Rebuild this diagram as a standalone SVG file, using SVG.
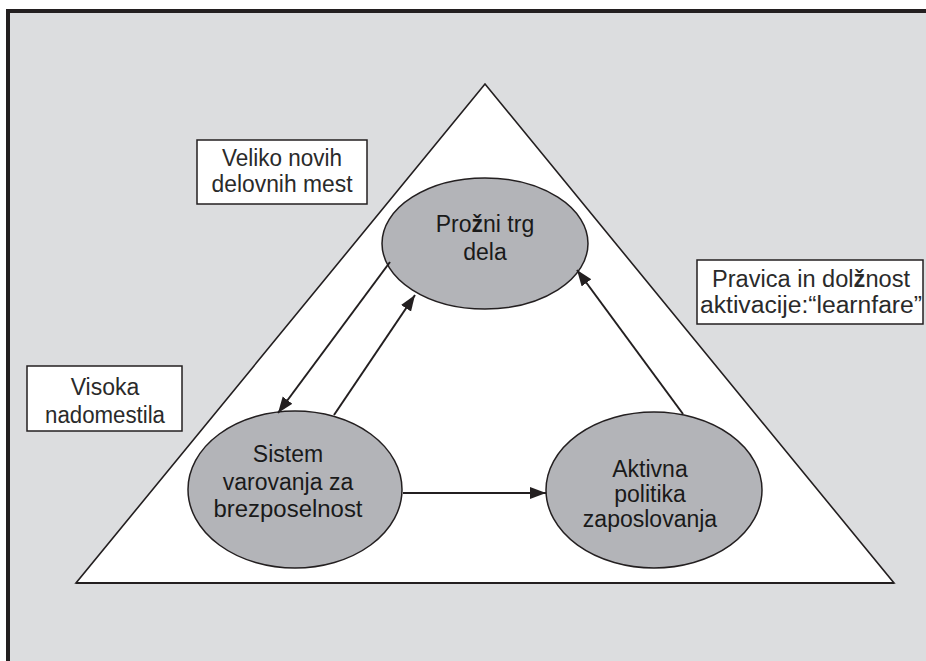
<svg xmlns="http://www.w3.org/2000/svg" width="926" height="661" viewBox="0 0 926 661">
<style>
.t{font-family:"Liberation Sans",Arial,sans-serif;text-anchor:middle}
.bx{font-size:23px;fill:#2a2a2a}
.el{font-size:23px;fill:#1a1a1a}
.box{fill:#ffffff;stroke:#231f20;stroke-width:1.5}
.ell{fill:#b3b4b8;stroke:#231f20;stroke-width:1.5}
.con{stroke:#231f20;stroke-width:2;fill:none}
</style>
<defs>
<marker id="ah" markerUnits="userSpaceOnUse" markerWidth="17" markerHeight="13" refX="16" refY="6" orient="auto">
<path d="M0,0 L16,6 L0,12 z" fill="#231f20"/>
</marker>
</defs>
<rect x="0" y="0" width="926" height="661" fill="#ffffff"/>
<rect x="8" y="11" width="940" height="670" fill="#dcdddf" stroke="#231f20" stroke-width="4"/>
<g id="triangle">
<polygon points="485,84 894,583 76,583" fill="#ffffff" stroke="#231f20" stroke-width="1.6" stroke-linejoin="miter"/>
<line x1="76" y1="583" x2="894" y2="583" stroke="#231f20" stroke-width="2"/>
</g>
<g id="box-veliko">
<rect class="box" x="197" y="140" width="170" height="64"/>
<text class="t bx" x="282" y="166" textLength="120" lengthAdjust="spacingAndGlyphs">Veliko novih</text>
<text class="t bx" x="282" y="192" textLength="141" lengthAdjust="spacingAndGlyphs">delovnih mest</text>
</g>
<g id="box-pravica">
<rect class="box" x="697" y="260" width="226" height="64"/>
<text class="t bx" x="811" y="287" textLength="198" lengthAdjust="spacingAndGlyphs">Pravica in dol<tspan font-weight="bold">ž</tspan>nost</text>
<text class="t bx" x="811" y="313" textLength="222" lengthAdjust="spacingAndGlyphs">aktivacije:“learnfare”</text>
</g>
<g id="box-visoka">
<rect class="box" x="27" y="366" width="155" height="65"/>
<text class="t bx" x="105" y="395">Visoka</text>
<text class="t bx" x="105" y="423" textLength="120" lengthAdjust="spacingAndGlyphs">nadomestila</text>
</g>
<g id="node-prozni">
<ellipse class="ell" cx="485" cy="243.5" rx="103" ry="65.5"/>
<text class="t el" x="485" y="232">Pro<tspan font-weight="bold">ž</tspan>ni trg</text>
<text class="t el" x="485" y="260">dela</text>
</g>
<g id="node-sistem">
<ellipse class="ell" cx="295" cy="489.5" rx="107" ry="78.5"/>
<text class="t el" x="288" y="462">Sistem</text>
<text class="t el" x="288" y="490">varovanja za</text>
<text class="t el" x="288" y="517" textLength="149" lengthAdjust="spacingAndGlyphs">brezposelnost</text>
</g>
<g id="node-aktivna">
<ellipse class="ell" cx="654" cy="490" rx="108" ry="78"/>
<text class="t el" x="650" y="477">Aktivna</text>
<text class="t el" x="650" y="502">politika</text>
<text class="t el" x="650" y="527">zaposlovanja</text>
</g>
<g id="connectors">
<line class="con" x1="390" y1="262" x2="278" y2="413" marker-end="url(#ah)"/>
<line class="con" x1="334" y1="415" x2="415" y2="295" marker-end="url(#ah)"/>
<line class="con" x1="683" y1="414" x2="577" y2="270" marker-end="url(#ah)"/>
<line class="con" x1="403" y1="493" x2="546" y2="493" marker-end="url(#ah)"/>
</g>
</svg>
